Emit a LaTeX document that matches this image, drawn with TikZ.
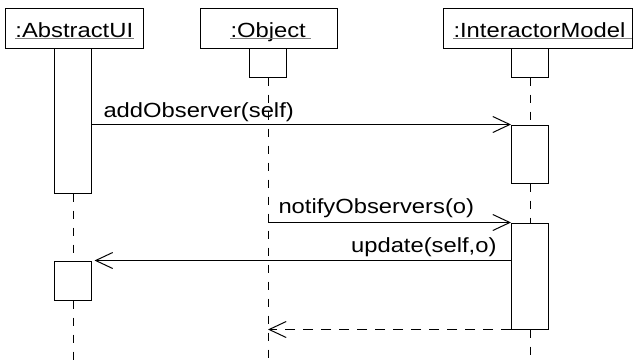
\documentclass[tikz,border=0pt]{standalone}
\usepackage{fontspec}
\setmainfont{Liberation Sans}[FakeStretch=1.16]
\usetikzlibrary{arrows.meta}

\begin{document}
\begin{tikzpicture}[x=1pt,y=-1pt,line width=1pt,
  font=\fontsize{20.5}{24}\selectfont,
  objbox/.style={draw,fill=white,inner sep=0pt,minimum height=40pt,minimum width=#1},
  actbox/.style={draw,fill=white,inner sep=0pt,minimum width=37pt,minimum height=#1},
  lifeline/.style={dash pattern=on 8pt off 9pt},
  msg/.style={-{Straight Barb[length=17pt,width=16pt]}},
  retmsg/.style={msg,dash pattern=on 10pt off 8pt},
  lbl/.style={anchor=base west,inner sep=0pt},
  objname/.style={anchor=base west,inner sep=0pt},
  uline/.style={draw=black!50,line width=1pt}]
\useasboundingbox (0,0) rectangle (633,360);

% object headers
\node[objbox=138pt] (hAU) at (74,28) {};
\node[objbox=137pt] (hOb) at (268.5,28) {};
\node[objbox=189pt] (hIM) at (537.5,28) {};

\node[objname] (tAU) at (15,37) {:AbstractUI};
\node[objname] (tOb) at (230,37) {:Object};
\node[objname] (tIM) at (453,37) {:InteractorModel};
\draw[uline] ([yshift=-1.5pt]tAU.base west) -- ([yshift=-1.5pt]tAU.base east);
\draw[uline] ([yshift=-1.5pt]tOb.base west) -- ([yshift=-1.5pt,xshift=5pt]tOb.base east);
\draw[uline] ([yshift=-1.5pt]tIM.base west) -- ([yshift=-1.5pt,xshift=6pt]tIM.base east);

% activation bars
\node[actbox=145pt] (aAU1) at (73,120.5) {};
\node[actbox=39pt]  (aAU2) at (73,280.5) {};
\node[actbox=29pt]  (aOb)  at (268,62.5) {};
\node[actbox=29pt]  (aIM0) at (530,62.5) {};
\node[actbox=58pt]  (aIM1) at (530,154) {};
\node[actbox=106pt] (aIM2) at (530,276) {};

% lifelines
\coordinate (endAU) at (73,360);
\coordinate (endOb) at (268,360);
\coordinate (endIM) at (530,360);
\draw[lifeline] (aAU1.south) -- (aAU2.north);
\draw[lifeline] (aAU2.south) -- (endAU);
\draw[lifeline] (aOb.south) -- (endOb);
\draw[lifeline] (aIM0.south) -- (aIM1.north);
\draw[lifeline] (aIM1.south) -- (aIM2.north);
\draw[lifeline] (aIM2.south) -- (endIM);

% messages
\coordinate (m1) at (aAU1.east |- aIM1.north);
\coordinate (m2) at (aOb.south |- aIM2.north);
\coordinate (m3) at (aIM2.west |- aAU2.north);
\coordinate (m4) at (aOb.south |- aIM2.south);
\draw[msg] (m1) -- (aIM1.north west);
\draw[msg] (m2) -- (aIM2.north west);
\draw[msg,shorten >=2.5pt] (m3) -- (aAU2.north east);
\draw[retmsg] (aIM2.south west) -- (m4);

\node[lbl] (l1) at (103,117) {addObserver(self)};
\node[lbl] (l2) at (278,213.5) {notifyObservers(o)};
\node[lbl,anchor=base east] (l3) at (497,252) {update(self,o)};
\end{tikzpicture}
\end{document}
